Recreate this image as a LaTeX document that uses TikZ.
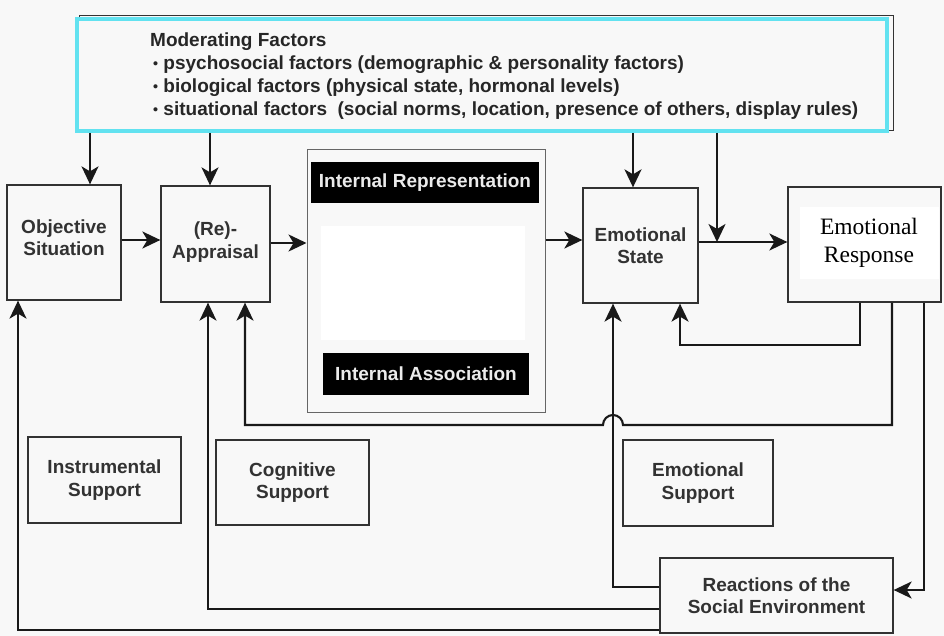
\documentclass[tikz,border=0pt]{standalone}
\usepackage{fontspec}
\setmainfont{Liberation Sans}
\newfontfamily\respfont{Liberation Serif}
\usetikzlibrary{arrows.meta}
\definecolor{bgc}{RGB}{248,248,248}
\definecolor{modcyan}{RGB}{98,226,240}
\definecolor{ink}{RGB}{50,50,50}
\newcommand\factorbullet{\raisebox{1pt}{\scalebox{.75}{•}}}

\begin{document}
\begin{tikzpicture}[x=1pt,y=-1pt,
    box/.style={draw=ink,line width=1.3pt,fill=bgc,inner sep=0pt,align=center,text=ink,
      font=\bfseries\fontsize{19}{22.5}\selectfont},
    lab/.style={fill=black,text=white!92!black,inner sep=0pt,font=\bfseries\fontsize{19}{22}\selectfont},
    arr/.style={line width=2.1pt,draw=black!90,-{Stealth[length=18pt,width=17pt,inset=5pt]}}]
    \fill[bgc] (0,0) rectangle (944,636);
    \useasboundingbox (0,0) rectangle (944,636);
    \draw[black!80,line width=0.8pt] (79,15) rectangle (893,130);
    \node[draw=modcyan,line width=4pt,fill=bgc,minimum width=810pt,minimum height=111.5pt,inner sep=0pt]
      (mod) at (482,75.25) {};
    \node[anchor=north west,align=left,inner sep=0pt,text=black!85,font=\bfseries\fontsize{19}{23}\selectfont]
      (modtxt) at (150,33) {Moderating Factors\\
      \hspace{3pt}\factorbullet{} psychosocial factors (demographic \& personality factors)\\
      \hspace{3pt}\factorbullet{} biological factors (physical state, hormonal levels)\\
      \hspace{3pt}\factorbullet{} situational factors\ \ (social norms, location, presence of others, display rules)};
    \node[box,minimum width=114pt,minimum height=115pt] (obj) at (64,242.5) {Objective\\Situation\\[-13pt]};
    \node[box,minimum width=109pt,minimum height=116pt] (app) at (215.5,244) {(Re)-\\Appraisal\\[-15pt]};
    \node[box,draw=black!60,line width=1pt,minimum width=238pt,minimum height=262pt] (irep) at (426,281) {};
    \node[lab,minimum width=228pt,minimum height=41pt] (repl) at (425,182.5) {Internal Representation};
    \node[fill=white,inner sep=0pt,minimum width=204pt,minimum height=114pt] (iwhite) at (423,283) {};
    \node[lab,minimum width=206pt,minimum height=42pt] (assl) at (426,374) {Internal Association};
    \node[box,minimum width=115pt,minimum height=115pt] (est) at (640.5,245.5) {Emotional\\State};
    \node[box,minimum width=153pt,minimum height=115pt] (resp) at (864.5,244.5) {};
    \node[fill=white,inner sep=0pt,minimum width=139pt,minimum height=71pt,align=center,
      font=\respfont\fontsize{23.5}{28}\selectfont] (resptxt) at (869,243) {Emotional\\Response};
    \node[box,minimum width=153pt,minimum height=86pt] (instr) at (104.5,480) {Instrumental\\Support};
    \node[box,minimum width=153pt,minimum height=85pt] (cogn) at (292.5,482.5) {Cognitive\\Support};
    \node[box,minimum width=150pt,minimum height=86pt] (emsup) at (698,483) {Emotional\\Support};
    \node[box,minimum width=233pt,minimum height=75pt] (reac) at (776.5,595.5) {Reactions of the\\Social Environment};
    \draw[arr] (90,0 |- mod.south) -- (90,0 |- obj.north);
    \draw[arr] (210,0 |- mod.south) -- (210,0 |- app.north);
    \draw[arr] (633,0 |- mod.south) -- (633,0 |- est.north);
    \draw[arr] (717,0 |- mod.south) -- (717,242);
    \draw[arr] (obj.east |- 0,240) -- (app.west |- 0,240);
    \draw[arr] (app.east |- 0,243) -- (irep.west |- 0,243);
    \draw[arr] (irep.east |- 0,240) -- (est.west |- 0,240);
    \draw[arr] (est.east |- 0,242) -- (resp.west |- 0,242);
    \draw[arr] (860,0 |- resp.south) -- (860,345) -| (680,0 |- est.south);
    \draw[arr] (892,0 |- resp.south) -- (892,425) -- (623,425) arc (0:-180:10) -- (245,425) -- (245,0 |- app.south);
    \draw[arr] (924,0 |- resp.south) |- (reac.east |- 0,590);
    \draw[arr] (reac.west |- 0,587) -| (613,0 |- est.south);
    \draw[arr] (reac.west |- 0,609) -| (208,0 |- app.south);
    \draw[arr] (reac.west |- 0,630) -| (18,0 |- obj.south);
\end{tikzpicture}
\end{document}
